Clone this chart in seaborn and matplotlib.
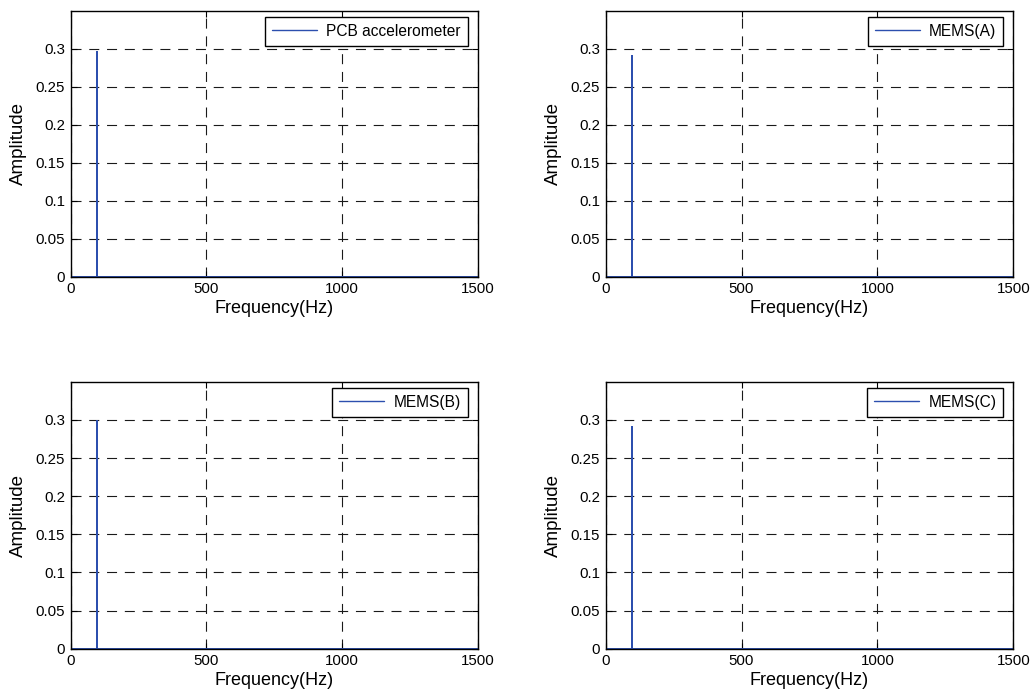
import pandas as pd
import numpy as np
import matplotlib
matplotlib.use('Agg')
import matplotlib.pyplot as plt
import seaborn as sns

# Spectrum of each sensor: flat zero except a single peak near 96 Hz
freq = [0, 96, 96, 96, 1500]
pcb = [0, 0, 0.296, 0, 0]
mems_a = [0, 0, 0.291, 0, 0]
mems_b = [0, 0, 0.298, 0, 0]
mems_c = [0, 0, 0.291, 0, 0]

sensors = ['PCB accelerometer', 'MEMS(A)', 'MEMS(B)', 'MEMS(C)']
amps = [pcb, mems_a, mems_b, mems_c]

xticks = [0, 500, 1000, 1500]
yticks = [0, 0.05, 0.1, 0.15, 0.2, 0.25, 0.3]
ytick_labels = ['0', '0.05', '0.1', '0.15', '0.2', '0.25', '0.3']

sns.set_style('ticks')
plt.rcParams['font.family'] = ['Liberation Sans', 'DejaVu Sans']
plt.rcParams['text.color'] = 'black'
plt.rcParams['axes.labelcolor'] = 'black'

fig = plt.figure(figsize=(10.33, 6.98), dpi=100)

# axes boxes in figure fractions [left, bottom, width, height]
boxes = [
    [0.0684, 0.6036, 0.3940, 0.3811],
    [0.5863, 0.6036, 0.3946, 0.3811],
    [0.0684, 0.0706, 0.3940, 0.3825],
    [0.5863, 0.0706, 0.3946, 0.3825],
]

line_color = '#2c4fae'

for box, name, amp in zip(boxes, sensors, amps):
    ax = fig.add_axes(box)
    df = pd.DataFrame({'Frequency': freq, 'Amplitude': amp})
    sns.lineplot(data=df, x='Frequency', y='Amplitude', ax=ax, color=line_color,
                 linewidth=1.4, estimator=None, sort=False, label=name)
    ax.set_xlim(0, 1500)
    ax.set_ylim(0, 0.35)
    ax.set_xticks(xticks)
    ax.set_xticklabels([str(t) for t in xticks])
    ax.set_yticks(yticks)
    ax.set_yticklabels(ytick_labels)
    ax.grid(True, color='#1a1a1a', linestyle=(0, (9, 7)), linewidth=0.8)
    ax.tick_params(direction='in', length=4, width=0.8, labelsize=10.8,
                   top=True, right=True, pad=4, colors='black')
    for sp in ax.spines.values():
        sp.set_linewidth(1.0)
        sp.set_color('black')
        sp.set_visible(True)
    ax.set_xlabel('Frequency(Hz)', fontsize=13, labelpad=3)
    ax.set_ylabel('Amplitude', fontsize=13.5, labelpad=6)
    leg = ax.legend(loc='upper right', bbox_to_anchor=(0.976, 0.977),
                    borderaxespad=0, fontsize=11.2, frameon=True, fancybox=False,
                    handlelength=2.9, borderpad=0.45, handletextpad=0.6)
    leg.get_frame().set_edgecolor('black')
    leg.get_frame().set_linewidth(1.0)
    leg.get_frame().set_alpha(1)
    for h in leg.get_lines():
        h.set_linewidth(1.0)

fig.savefig('out.png', dpi=100)
plt.close(fig)
